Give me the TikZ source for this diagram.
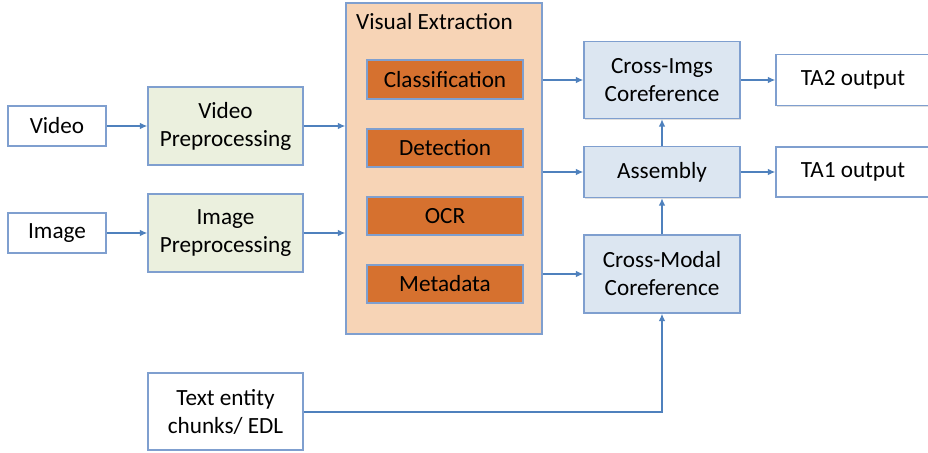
\documentclass[tikz,border=0pt]{standalone}
\usepackage{fontspec}
\setmainfont{Carlito}
\usetikzlibrary{arrows.meta,shadows}
\definecolor{bord}{HTML}{7F9FCF}
\definecolor{arr}{HTML}{4F81BD}
\definecolor{gfill}{HTML}{EBF0DE}
\definecolor{vefill}{HTML}{F7D4B6}
\definecolor{ofill}{HTML}{D6712F}
\definecolor{bfill}{HTML}{DCE6F1}
\begin{document}
\begin{tikzpicture}[x=1pt,y=-1pt,
  box/.style={draw=bord,line width=1.1pt,align=center,inner sep=0pt,
    font=\fontsize{23.2}{28}\selectfont,
    drop shadow={opacity=0.25,shadow xshift=1.2pt,shadow yshift=-1.2pt}},
  wbox/.style={box,fill=white},
  gbox/.style={box,fill=gfill},
  bbox/.style={box,fill=bfill},
  obox/.style={box,fill=ofill,minimum width=156pt},
  conn/.style={draw=arr,line width=2pt,-{Latex[length=7.5pt,width=6.5pt]}}]
\useasboundingbox (0,0) rectangle (928,452);
\node[wbox,minimum width=98pt,minimum height=40pt] (video) at (57,126) {Video};
\node[wbox,minimum width=98pt,minimum height=40pt] (image) at (57,233) {Image};
\node[gbox,minimum width=155pt,minimum height=78pt] (vp) at (225.5,126) {Video\\Preprocessing};
\node[gbox,minimum width=155pt,minimum height=78pt] (ip) at (225.5,233) {Image\\Preprocessing};
\node[box,fill=vefill,minimum width=196pt,minimum height=331pt] (ve) at (444,168.5) {};
\node[anchor=west,inner sep=0pt,font=\fontsize{23.2}{28}\selectfont] (vet) at (356,22) {Visual Extraction};
\node[obox,minimum height=39pt] (cls) at (445,79.5) {Classification};
\node[obox,minimum height=38pt] (det) at (445,148) {Detection};
\node[obox,minimum height=38pt] (ocr) at (445,216) {OCR};
\node[obox,minimum height=38pt] (meta) at (445,284) {Metadata};
\node[bbox,minimum width=156pt,minimum height=77pt] (ci) at (662,80) {Cross-Imgs\\Coreference};
\node[bbox,minimum width=156pt,minimum height=51pt] (asm) at (662,172) {Assembly};
\node[bbox,minimum width=156pt,minimum height=78pt] (cm) at (662,274) {Cross-Modal\\Coreference};
\node[wbox,minimum width=154pt,minimum height=51pt] (ta2) at (853,80) {TA2 output};
\node[wbox,minimum width=154pt,minimum height=50pt] (ta1) at (853,172) {TA1 output};
\node[wbox,minimum width=155pt,minimum height=77pt] (txt) at (225.5,411.5) {Text entity\\chunks/ EDL};
\draw[conn] (video) -- (vp);
\draw[conn] (image) -- (ip);
\draw[conn] (vp.east) -- (vp.east -| ve.west);
\draw[conn] (ip.east) -- (ip.east -| ve.west);
\draw[conn] (ve.east |- ci.west) -- (ci.west);
\draw[conn] (ve.east |- asm.west) -- (asm.west);
\draw[conn] (ve.east |- cm.west) -- (cm.west);
\draw[conn] (ci) -- (ta2);
\draw[conn] (asm) -- (ta1);
\draw[conn] (asm) -- (ci);
\draw[conn] (cm) -- (asm);
\draw[conn] (txt.east) -| (cm.south);
\end{tikzpicture}
\end{document}
